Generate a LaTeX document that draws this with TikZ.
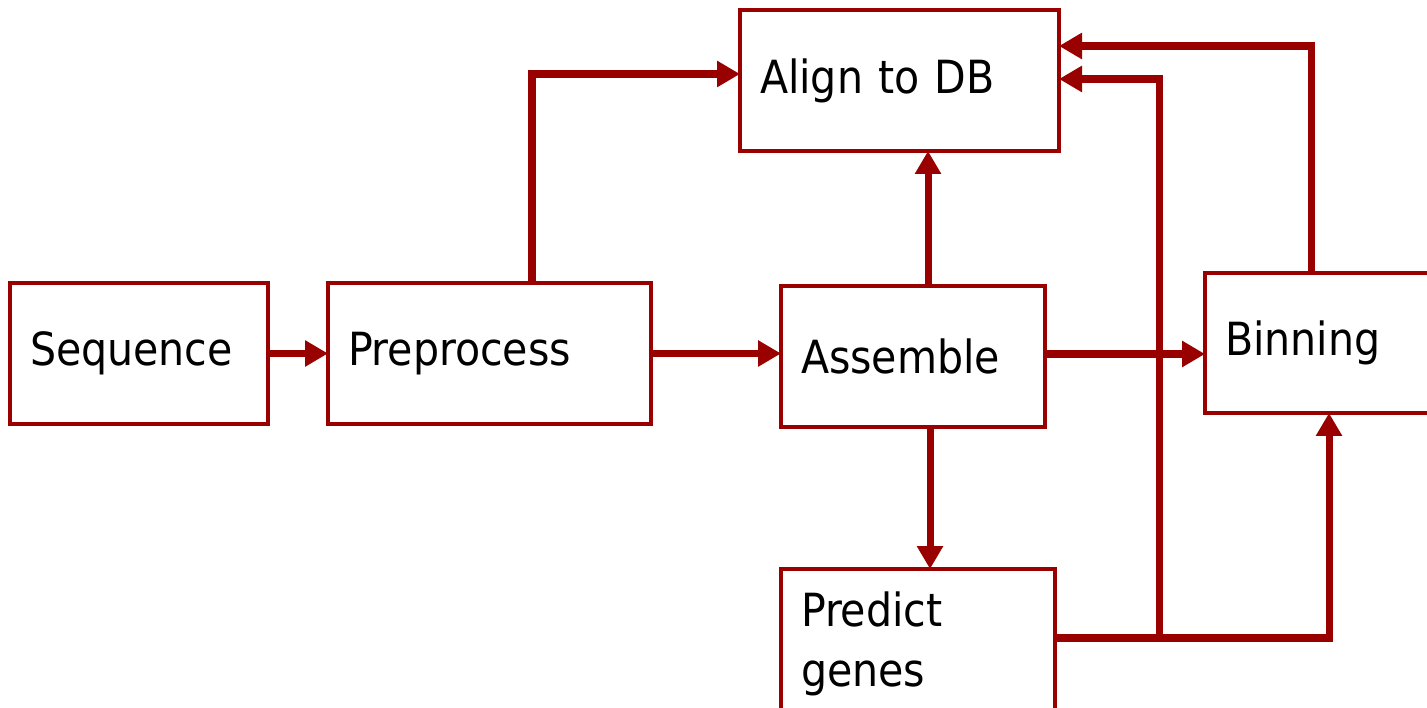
\documentclass[tikz,border=0pt]{standalone}
\usepackage{fontspec}
\setmainfont{DejaVu Sans Condensed}
\usetikzlibrary{arrows.meta}
\definecolor{darkred}{HTML}{990000}

\tikzstyle{stage} = [rectangle, draw=darkred, line width=1.35pt, anchor=north west,
    outer sep=0pt, inner xsep=0.2cm, align=left, font=\fontsize{13}{17}\selectfont]
\tikzstyle{flow} = [draw=darkred, line width=2pt, line join=miter,
    -{Triangle[length=2.3mm,width=2.5mm]}]

\begin{document}
\begin{tikzpicture}
	\useasboundingbox (0,0) rectangle (14.27,-7.08);
	\node [stage, text width=2.18cm, minimum height=1.41cm] (seq) at (0.10,-2.83) {Sequence};
	\node [stage, text width=2.83cm, minimum height=1.41cm] (pre) at (3.28,-2.83) {Preprocess};
	\node [stage, text width=2.79cm, minimum height=1.41cm] (align) at (7.40,-0.10) {Align to DB};
	\node [stage, text width=2.24cm, minimum height=1.41cm] (asm) at (7.81,-2.86) {Assemble};
	\node [stage, text width=2.40cm, minimum height=1.40cm] (bin) at (12.05,-2.73) {Binning};
	\node [stage, text width=2.34cm, minimum height=1.50cm] (pred) at (7.81,-5.69) {Predict\\genes};
	%
	\coordinate (up) at (5.32,-0.74);
	\coordinate (aup) at (9.28,-2.00);
	\coordinate (adown) at (9.30,-5.00);
	\coordinate (abin) at (10.45,-3.54);
	\coordinate (btop) at (13.11,-0.46);
	\coordinate (pbin) at (13.29,-6.38);
	\coordinate (split) at (11.59,-6.38);
	\coordinate (stop) at (11.59,-0.79);
	%
	\draw [flow] (seq.east) -- (pre.west);
	\draw [flow] (pre.north -| up) -- (up) -- (up -| align.west);
	\draw [flow] (pre.east) -- (pre.east -| asm.west);
	\draw [flow] (asm.north -| aup) -- (align.south -| aup);
	\draw [flow] (asm.south -| adown) -- (pred.north -| adown);
	\draw [flow] (asm.east |- abin) -- (bin.west |- abin);
	\draw [flow] (bin.north -| btop) -- (btop) -- (btop -| align.east);
	\draw [flow] (pred.east |- pbin) -- (pbin) -- (bin.south -| pbin);
	\draw [flow] (split) -- (stop) -- (stop -| align.east);
\end{tikzpicture}
\end{document}
